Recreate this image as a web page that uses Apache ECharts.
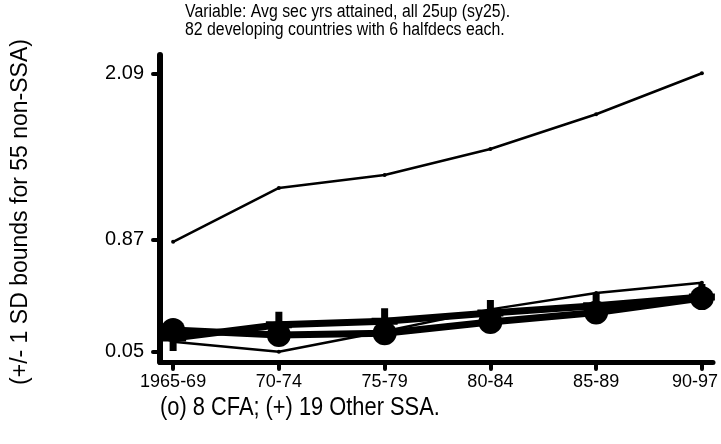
<!DOCTYPE html>
<html>
<head>
<meta charset="utf-8">
<script src="https://cdn.jsdelivr.net/npm/echarts@6/dist/echarts.min.js"></script>
<style>
  html, body { margin: 0; padding: 0; background: #fff; }
  #chart { width: 721px; height: 444px; }
</style>
</head>
<body>
<div id="chart"></div>
<script>
// Half-decade periods on the horizontal axis
const periods = ['1965-69', '70-74', '75-79', '80-84', '85-89', '90-97'];

// +/- 1 SD bounds around the non-SSA mean (55 countries)
const upperBound = [0.855, 1.25, 1.345, 1.535, 1.79, 2.09];
const lowerBound = [0.123, 0.05, 0.20, 0.36, 0.48, 0.555];

// Group means: 8 CFA countries (o) and 19 other SSA countries (+)
const cfaMean = [0.209, 0.172, 0.185, 0.268, 0.337, 0.443];
const otherSsaMean = [0.150, 0.248, 0.273, 0.334, 0.387, 0.450];

// Labelled values on the vertical axis
const yTickValues = [0.05, 0.87, 2.09];

const FONT = '"Liberation Sans", Arial, sans-serif';
const plusPath = 'path://M-3.5,-13L3.5,-13L3.5,-3.5L13,-3.5L13,3.5L3.5,3.5L3.5,13L-3.5,13L-3.5,3.5L-13,3.5L-13,-3.5L-3.5,-3.5Z';

const toPoints = arr => arr.map((v, i) => [i, v]);
const lastPeriod = periods.length - 1;

const chart = echarts.init(document.getElementById('chart'), null, { renderer: 'canvas' });

chart.setOption({
  animation: false,
  backgroundColor: '#fff',
  grid: { left: 160, right: 8, top: 55, bottom: 82, containLabel: false, outerBoundsMode: 'none' },
  xAxis: {
    type: 'value',
    min: -0.124,
    max: 5.105,
    splitLine: { show: false },
    axisLine: { show: true, onZero: false, lineStyle: { color: '#000', width: 5, cap: 'round' } },
    axisTick: { show: true, length: 7, customValues: [0, 1, 2, 3, 4, 5], lineStyle: { color: '#000', width: 4, cap: 'round' } },
    axisLabel: {
      customValues: [0, 1, 2, 3, 4, 5],
      // the last label is nudged inward so it stays on the canvas
      formatter: v => {
        const i = Math.round(v);
        return i === lastPeriod ? '{edge|' + periods[i] + '}' : periods[i];
      },
      rich: { edge: { fontSize: 18, fontFamily: FONT, color: '#000', padding: [0, 14, 0, 0] } },
      color: '#000', fontSize: 18, fontFamily: FONT, margin: 11
    }
  },
  yAxis: {
    type: 'value',
    min: -0.0255,
    max: 2.224,
    splitLine: { show: false },
    axisLine: { show: true, onZero: false, lineStyle: { color: '#000', width: 6, cap: 'round' } },
    axisTick: { show: true, length: 7, customValues: yTickValues, lineStyle: { color: '#000', width: 4, cap: 'round' } },
    axisLabel: {
      customValues: yTickValues,
      formatter: v => v.toFixed(2),
      color: '#000', fontSize: 20, fontFamily: FONT, margin: 16
    }
  },
  graphic: [
    {
      type: 'text', x: 185, y: 3, scaleX: 0.88,
      style: {
        text: 'Variable: Avg sec yrs attained, all 25up (sy25).\n82 developing countries with 6 halfdecs each.',
        font: '18px ' + FONT, fill: '#000', lineHeight: 18, align: 'left', verticalAlign: 'top'
      }
    },
    {
      type: 'text', x: 21, y: 212, rotation: Math.PI / 2,
      style: {
        text: '(+/- 1 SD bounds for 55 non-SSA)',
        font: '23px ' + FONT, fill: '#000', align: 'center', verticalAlign: 'middle'
      }
    },
    {
      type: 'text', x: 160, y: 408, scaleX: 0.84,
      style: {
        text: '(o) 8 CFA; (+) 19 Other SSA.',
        font: '26px ' + FONT, fill: '#000', align: 'left', verticalAlign: 'middle'
      }
    }
  ],
  series: [
    {
      name: 'upper', type: 'line', data: toPoints(upperBound),
      symbol: 'circle', symbolSize: 4, itemStyle: { color: '#000' },
      lineStyle: { color: '#000', width: 2.5 }
    },
    {
      name: 'lower', type: 'line', data: toPoints(lowerBound),
      symbol: 'circle', symbolSize: 4, itemStyle: { color: '#000' },
      lineStyle: { color: '#000', width: 2.5 }
    },
    {
      name: 'Other SSA', type: 'line', data: toPoints(otherSsaMean),
      symbol: plusPath, symbolSize: 26, itemStyle: { color: '#000' },
      lineStyle: { color: '#000', width: 7 }
    },
    {
      name: 'CFA', type: 'line', data: toPoints(cfaMean),
      symbol: 'circle', symbolSize: 24, itemStyle: { color: '#000' },
      lineStyle: { color: '#000', width: 7 }
    }
  ]
});
</script>
</body>
</html>
